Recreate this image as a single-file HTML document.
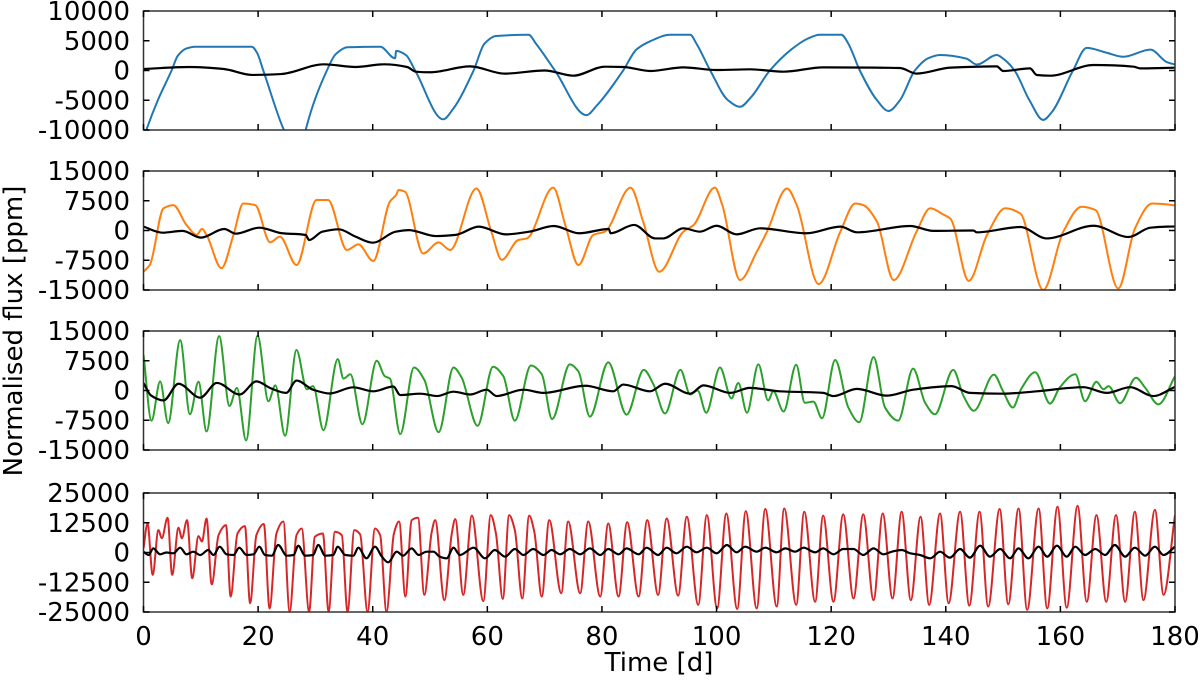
<!DOCTYPE html>
<html><head><meta charset="utf-8"><style>
html,body{margin:0;padding:0;background:#fff;width:1200px;height:680px;overflow:hidden}
svg{display:block;font-family:"DejaVu Sans","Liberation Sans",sans-serif}
</style></head><body>
<svg id="chart" width="1200" height="680" xmlns="http://www.w3.org/2000/svg"></svg>
<script>
const xTicks=[0,20,40,60,80,100,120,140,160,180];
const panelRanges=[[-10000,10000],[-15000,15000],[-15000,15000],[-25000,25000]];
const panelTicks=[[10000,5000,0,-5000,-10000],[15000,7500,0,-7500,-15000],[15000,7500,0,-7500,-15000],[25000,12500,0,-12500,-25000]];
const panelColors=['#1f77b4','#ff7f0e','#2ca02c','#d62728'];
const blueSeries=[[0,-11500],[0.5,-10000],[2.5,-5000],[4.9,0],[6,2500],[7.5,3700],[9,4000],[18.9,4000],[19.8,3000],[20.9,0],[24.5,-10000],[27.3,-15000],[28.3,-10000],[32,0],[33.5,2700],[35.6,3900],[41.3,4000],[43.9,2050],[44.1,3300],[45.8,2600],[47.4,0],[52.3,-8200],[54,-6500],[57.6,0],[59.5,4500],[61.5,5800],[67.2,6000],[68.5,4500],[71.8,0],[77.3,-7500],[79,-6000],[83.7,0],[86,3500],[88.4,4900],[91.9,6000],[95.4,6000],[96.5,4500],[98.9,0],[102,-5000],[104.1,-6100],[106,-4500],[109.3,0],[113,3500],[116,5400],[118,6000],[121.8,6000],[123,4500],[125,0],[128,-5000],[130,-6800],[132,-5000],[134.6,0],[137,2100],[139,2600],[143.6,2000],[145.4,1000],[148.9,2600],[150,2000],[152,0],[154.6,-5000],[157,-8300],[158.5,-7000],[162.2,0],[164.6,3800],[168,3000],[171,2300],[175.7,3500],[178.6,1400],[180,1000]];
const blackSeries1=[[0,250],[8,590],[14,250],[19,-750],[24,-600],[31.5,1040],[37,590],[42,1040],[46,590],[47.5,-200],[50,-300],[57,700],[63,-530],[70,0],[75,-870],[80.5,640],[83.7,590],[88.4,-80],[94.2,530],[100,80],[105.9,200],[111.7,-200],[118.6,530],[132,420],[134.9,-530],[140.8,480],[148.9,700],[150,-80],[154.7,360],[155.9,-760],[158.2,-870],[165.8,920],[172.8,640],[173.9,360],[180,470]];
const orangeSeries=[[0,-10400],[1.1,-8700],[3.5,5600],[5.2,6400],[7.5,1400],[9.3,-1100],[10.2,400],[11,-1100],[13.6,-9500],[15.7,-1100],[17.4,6800],[19.5,6400],[22.1,-3000],[23.8,-1550],[26.7,-8700],[30.2,7700],[32.2,7700],[35.5,-4900],[37.5,-3500],[40.1,-7700],[43,7300],[44.1,9000],[44.5,10200],[45.6,9800],[48.8,-5800],[51.5,-3000],[53.5,-4900],[58.1,10600],[60.7,-300],[62.5,-7400],[65.4,-2400],[66.9,-2000],[71.5,10800],[73.6,1400],[75.9,-8700],[78.5,-1100],[80.5,-300],[85,10800],[87.2,2200],[90,-10400],[94.2,-300],[96,1400],[99.7,10800],[101,6400],[104.1,-12500],[107,-5400],[108.8,-300],[112.3,10600],[114,6400],[117.8,-13500],[121.6,-300],[124.2,6800],[125.6,6400],[128,2200],[130.9,-12500],[134.9,-300],[137.3,5600],[139.6,4000],[140.8,3000],[144,-12700],[147.2,-1100],[150.4,5600],[153,4300],[157,-15000],[160.5,-300],[163.7,6000],[166.1,5200],[170.1,-14600],[173,500],[176,6800],[178.6,6600],[180,6300]];
const blackSeries2=[[0,970],[3.3,-550],[6.8,-100],[10,-1800],[14.1,380],[16.1,-800],[20.2,710],[24.2,-700],[28.3,-1130],[28.9,-2400],[31.2,-300],[34.1,300],[37,-1550],[40,-3070],[44,-300],[46.3,100],[51,-1400],[54.5,-1100],[58.5,970],[63.2,-970],[67.3,-300],[71.6,1130],[76,-700],[81.2,380],[81.5,-700],[85.6,1400],[89.3,-2000],[90.7,-2000],[94.2,550],[97.1,-300],[100,1200],[103.5,-970],[107.6,550],[115.7,-700],[121.6,970],[124.5,-460],[133.8,1130],[137.8,-100],[144.8,0],[145.4,-460],[153,880],[157.6,-2000],[165.8,1200],[171.9,-1640],[175.7,710],[178.6,970],[180,1000]];
const greenSeries=[[0,9000],[1.4,-7600],[2.9,2300],[4.3,-8200],[6.4,12700],[8.1,-6000],[9.6,2200],[11,-10300],[13.2,13700],[15,-3900],[16.3,660],[17.9,-12600],[19.9,13800],[21.8,-2700],[23,1300],[24.7,-11400],[26.7,10200],[28.5,300],[29.6,1100],[31.4,-10000],[33.9,7900],[34.9,3000],[36.1,4100],[38.2,-8500],[40.7,7500],[42.1,3600],[43,3000],[44.8,-11000],[47.2,5800],[49,2700],[51.5,-10500],[54.1,5800],[55.5,3300],[58.3,-8900],[61,6000],[62.8,3600],[64.8,-7600],[67.6,6300],[69.5,4100],[71.3,-7200],[74.4,6600],[75.9,4800],[77.9,-6600],[81.1,7100],[84.3,-6100],[87.3,5200],[89,1500],[91,-5800],[93.7,5200],[95.4,-1000],[96.7,0],[98.2,-5600],[100.6,5800],[102.6,-2000],[103.8,1900],[105.3,-5600],[107.3,6600],[109,-2500],[109.9,-200],[111.7,-5300],[113.9,6500],[115.4,-3100],[116.9,-2800],[118.4,-7000],[120.7,7700],[123,-4300],[124.9,-8000],[127.4,8400],[129.4,-4300],[131.7,-7600],[134.3,5500],[136.4,-3100],[138.1,-6000],[141.3,5200],[143.1,-1400],[144.9,-5100],[148.4,4000],[150,-200],[151.7,-4300],[153.2,500],[155.6,4600],[158.2,-3300],[159.9,800],[162.6,4100],[164.3,-2700],[166.3,2200],[167.5,300],[168.4,1100],[170.4,-3200],[173.2,3200],[174.8,700],[177.1,-3500],[180,3600]];
const blackSeries3=[[0,1900],[1.3,-1250],[3.5,-2500],[6.1,1700],[9.9,-1800],[12.8,1900],[16.8,-1000],[19.7,2300],[22.3,500],[24.9,-600],[26.7,2500],[29.6,200],[32.5,-750],[36.6,800],[40.1,-200],[43.6,1000],[44.8,-1150],[48.3,-800],[51.2,-1400],[54.1,-300],[57,-1000],[59.9,200],[61.6,-1400],[66.3,200],[69.8,-600],[77.1,1200],[82,-200],[83.7,1500],[88.4,-200],[91,1700],[95.4,-800],[97.7,1300],[102.4,-600],[105.8,660],[111,-200],[118.6,-600],[120.4,-1400],[124.5,400],[129.7,-1300],[134.3,200],[141,1100],[144.2,-600],[150,-800],[155.9,-200],[164,830],[168.1,-600],[172.2,830],[176.2,-1400],[180,900]];
const redSeries=[[0,1750],[0.7,12200],[1.6,-9400],[2.6,9400],[3.2,6000],[4.2,14600],[5,-9400],[6.1,10400],[6.7,6000],[7.6,13600],[8.5,-10800],[9.6,6900],[10.2,4600],[11,14300],[11.9,-13400],[13.1,7300],[14.4,11500],[15.2,-18500],[16.4,8000],[17.7,11100],[18.6,-21300],[19.7,7300],[21,12000],[22,-23500],[23.2,8000],[24.4,13000],[25.5,-24800],[26.7,7300],[27.6,10100],[28.9,-24800],[29.9,6600],[31.3,8000],[32.3,-24800],[33.4,8700],[34.6,7300],[35.6,-24800],[36.8,9400],[37.8,7600],[39.1,-24800],[40.4,10100],[41.3,7300],[42.4,-24800],[43.7,8000],[44.6,13000],[45.7,-18500],[46.8,13600],[47.9,14600],[49,-17800],[50.3,8700],[50.9,13600],[52.5,-20000],[53.8,8000],[54.4,14000],[55.8,-17800],[57.3,15500],[59.3,-20400],[60.6,15700],[61.5,8000],[62.7,-19500],[63.8,15700],[64.8,9400],[66.1,-19300],[67.3,15500],[68.2,8700],[69.5,-18500],[70.8,13600],[72.9,-17100],[74.1,13000],[76.2,-17100],[77.6,13000],[79.7,-18500],[81.1,12200],[82.9,-18500],[84.4,12700],[86.4,-18500],[87.9,13600],[89.8,-17800],[91.3,14300],[93.3,-18100],[94.8,15000],[96.8,-22000],[98.3,15700],[100.1,-23500],[101.7,16400],[103.6,-23700],[105.1,17400],[107,-23500],[108.5,18300],[110.5,-22700],[111.8,18500],[113.9,-22000],[115.3,17100],[117.2,-20700],[118.6,15500],[120.4,-20700],[122.1,16000],[123.9,-19300],[125.6,16000],[127.4,-20000],[129,16400],[130.7,-19300],[132.3,17100],[133.9,-20000],[135.6,15000],[137.1,-22000],[139,16400],[140.5,-21300],[142.5,17100],[144.1,-22300],[145.9,17100],[147.4,-22700],[149.4,18300],[150.9,-21800],[152.7,18500],[154.2,-24100],[156.2,18500],[157.7,-23500],[159.5,19200],[161.1,-23200],[163,19600],[164.6,-20700],[166.3,15700],[168,-20700],[169.7,15700],[171.3,-20700],[173,17100],[174.5,-20000],[176.5,17900],[178,-17800],[180,15700]];
const blackSeries4=[[0,350],[0.9,-1050],[1.7,1750],[2.9,-770],[4,0],[5.2,-350],[6.4,2030],[7.5,-770],[8.7,350],[9.9,-1050],[11.3,1050],[12.2,-1050],[13.3,2450],[14.5,-770],[15.7,-1050],[16.7,2030],[18,-1050],[19.2,-770],[20.2,2450],[21.2,-1050],[22.4,-1330],[23.5,3150],[25,-1330],[26.2,-1050],[27,2870],[28.2,-1330],[29.6,-1050],[30.5,3150],[31.7,-1330],[33.1,-1050],[33.9,2450],[35.2,-1050],[36.6,-1330],[37.5,2030],[38.9,-2450],[40.4,2450],[41.6,-1750],[42.7,-4130],[44.2,350],[45.3,-1330],[46.8,1750],[48,-1050],[49.4,350],[50.6,350],[51.7,-1750],[52.9,-2450],[54.1,2030],[55.2,-1050],[57.6,2030],[59.6,-2450],[61.3,1050],[63.1,-1750],[64.8,1470],[66.3,-1050],[68,1470],[69.8,-1050],[71.2,1050],[72.7,-770],[74.4,1470],[76.2,-770],[77.9,1750],[79.7,-1050],[81.1,1470],[82.9,-770],[84.3,1750],[86.4,-770],[87.8,2030],[89.8,-1050],[91.3,2030],[93,-350],[94.8,2450],[96.5,70],[98.3,2030],[100,-350],[101.8,3150],[103.5,70],[105,2450],[107,350],[108.5,2030],[110.5,70],[112,1750],[113.7,350],[115.2,2030],[117.2,70],[118.6,1750],[120.4,-770],[122.1,1470],[123.9,1470],[125.6,-1050],[127.4,1750],[129.1,-770],[130.6,350],[132.3,1050],[133.8,-350],[135.5,-1050],[137.3,-2450],[139,350],[140.7,-2170],[142.5,1470],[144.2,-2170],[146,2870],[147.7,-1750],[149.5,1470],[151.2,-2450],[152.7,1750],[154.4,-2450],[156.2,2450],[157.7,-1750],[159.4,2870],[161.1,-1750],[162.6,2450],[164.3,-1050],[166.1,1470],[167.8,-1050],[169.5,3150],[171.3,-1750],[173,2030],[174.8,-1330],[176.5,2450],[178,-1050],[180,2450]];

const NS='http://www.w3.org/2000/svg';
const svg=document.getElementById('chart');
const X0=143.5,X1=1175;
const panelTops=[11,171,331,493],panelH=119;
function xs(d){return X0+(d/180)*(X1-X0);}
function ysFor(p){const [lo,hi]=panelRanges[p];const t=panelTops[p];return v=>t+panelH*(hi-v)/(hi-lo);}
function mk(tag,attrs){const e=document.createElementNS(NS,tag);for(const k in attrs)e.setAttribute(k,attrs[k]);return e;}
function monotonePath(pts){
  const n=pts.length;const dx=[],m=[],s=[];
  for(let i=0;i<n-1;i++){dx[i]=pts[i+1][0]-pts[i][0];s[i]=(pts[i+1][1]-pts[i][1])/dx[i];}
  m[0]=s[0];m[n-1]=s[n-2];
  for(let i=1;i<n-1;i++){m[i]=(s[i-1]*s[i]<=0)?0:3*(dx[i-1]+dx[i])/((2*dx[i]+dx[i-1])/s[i-1]+(dx[i]+2*dx[i-1])/s[i]);}
  let d='M'+pts[0][0].toFixed(2)+','+pts[0][1].toFixed(2);
  for(let i=0;i<n-1;i++){const h=dx[i]/3;
    d+='C'+(pts[i][0]+h).toFixed(2)+','+(pts[i][1]+m[i]*h).toFixed(2)+' '+(pts[i+1][0]-h).toFixed(2)+','+(pts[i+1][1]-m[i+1]*h).toFixed(2)+' '+pts[i+1][0].toFixed(2)+','+pts[i+1][1].toFixed(2);}
  return d;
}
const defs=mk('defs',{});svg.appendChild(defs);
const colourData=[blueSeries,orangeSeries,greenSeries,redSeries];
const blackData=[blackSeries1,blackSeries2,blackSeries3,blackSeries4];
const names=['blue','orange','green','red'];
for(let p=0;p<4;p++){
  const ys=ysFor(p);const top=panelTops[p],bot=top+panelH;
  const g=mk('g',{});
  
  
  svg.appendChild(g);
  const cp=mk('clipPath',{id:'clip'+p});cp.appendChild(mk('rect',{x:X0,y:top,width:X1-X0,height:panelH}));defs.appendChild(cp);
  const cg=mk('g',{'clip-path':'url(#clip'+p+')'});g.appendChild(cg);
  const c=mk('path',{d:monotonePath(colourData[p].map(q=>[xs(q[0]),ys(q[1])])),fill:'none',stroke:panelColors[p],'stroke-width':2,'stroke-linejoin':'round'});
  
  
  cg.appendChild(c);
  const b=mk('path',{d:monotonePath(blackData[p].map(q=>[xs(q[0]),ys(q[1])])),fill:'none',stroke:'#000','stroke-width':2.2,'stroke-linejoin':'round'});
  
  
  cg.appendChild(b);
  const fr=mk('rect',{x:X0,y:top,width:X1-X0,height:panelH,fill:'none',stroke:'#333','stroke-width':1.5});
  
  
  g.appendChild(fr);
  xTicks.forEach(t=>{const x=xs(t);
    g.appendChild(mk('line',{x1:x,x2:x,y1:bot,y2:bot-6,stroke:'#000','stroke-width':1.5}));
    g.appendChild(mk('line',{x1:x,x2:x,y1:top,y2:top+6,stroke:'#000','stroke-width':1.5}));});
  panelTicks[p].forEach(t=>{const y=ys(t);
    g.appendChild(mk('line',{x1:X0,x2:X0+6,y1:y,y2:y,stroke:'#000','stroke-width':1.5}));
    g.appendChild(mk('line',{x1:X1,x2:X1-6,y1:y,y2:y,stroke:'#000','stroke-width':1.5}));
    const tx=mk('text',{x:130,y:y+9,'text-anchor':'end','font-size':26,fill:'#000'});tx.textContent=t;
    
    
    g.appendChild(tx);});
}
xTicks.forEach(t=>{const tx=mk('text',{x:xs(t),y:645,'text-anchor':'middle','font-size':26,fill:'#000'});tx.textContent=t;
  
  
  svg.appendChild(tx);});
const xt=mk('text',{x:659,y:671,'text-anchor':'middle','font-size':26,fill:'#000'});xt.textContent='Time [d]';


svg.appendChild(xt);
const yt=mk('text',{x:0,y:0,'text-anchor':'middle','font-size':26,fill:'#000',transform:'translate(22,331) rotate(-90)'});yt.textContent='Normalised flux [ppm]';


svg.appendChild(yt);
</script>
</body></html>
